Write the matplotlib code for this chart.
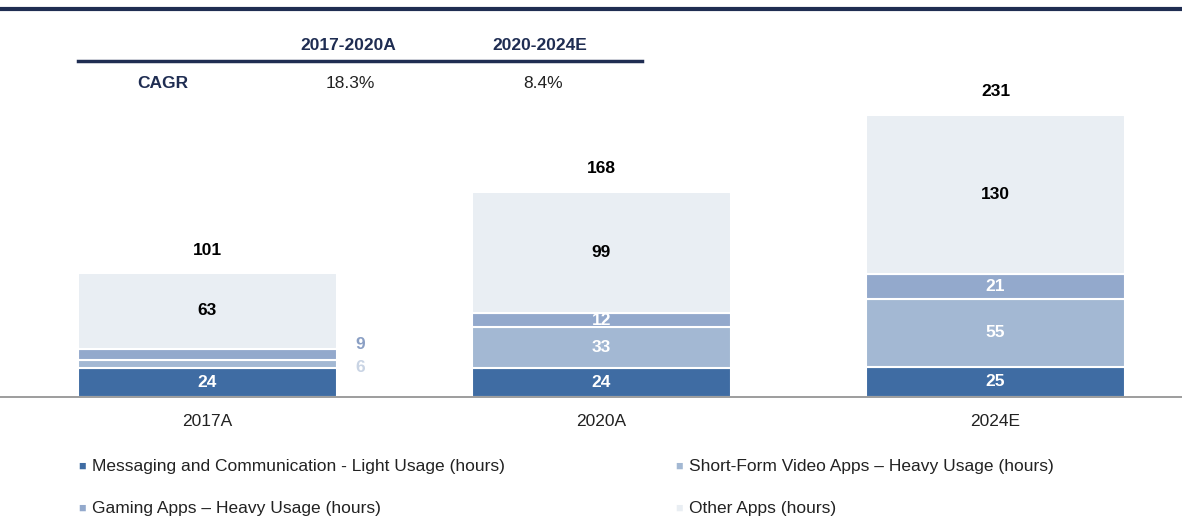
import numpy as np
import matplotlib.pyplot as plt

plt.rcParams['font.family'] = ['Liberation Sans', 'DejaVu Sans']

years = ['2017A', '2020A', '2024E']
messaging = [24, 24, 25]
short_video = [6, 33, 55]
gaming = [9, 12, 21]
other = [63, 99, 130]
totals = [101, 168, 231]

periods = ['2017-2020A', '2020-2024E']
cagr = ['18.3%', '8.4%']

labels = ['Messaging and Communication - Light Usage (hours)',
          'Short-Form Video Apps \u2013 Heavy Usage (hours)',
          'Gaming Apps \u2013 Heavy Usage (hours)',
          'Other Apps (hours)']
colors = ['#3f6ca3', '#a3b8d3', '#93a9cc', '#e9eef3']
navy = '#1f2d52'

W, H = 1182, 521
fig = plt.figure(figsize=(W / 100, H / 100), dpi=100)


def px(x, y):
    return x / W, 1 - y / H


# bars axes: baseline at y=397px, 1.22 px per unit
ax = fig.add_axes([0, (H - 397) / H, 1, 305 / H])
ax.set_xlim(-207.5 / 394, (W - 207.5) / 394)
ax.set_ylim(0, 250)
ax.axis('off')

x = np.arange(len(years))
width = 259 / 394
series = [messaging, short_video, gaming, other]
bottom = np.zeros(len(years))
for vals, c in zip(series, colors):
    ax.bar(x, vals, width, bottom=bottom, color=c, edgecolor='white', linewidth=1.5)
    bottom += np.array(vals)

# segment labels
for i in range(len(years)):
    ax.text(x[i], messaging[i] / 2, str(messaging[i]), ha='center', va='center',
            color='white', fontsize=12.5, fontweight='bold')
    b = messaging[i] + short_video[i] + gaming[i]
    ax.text(x[i], b + other[i] / 2, str(other[i]), ha='center', va='center',
            color='black', fontsize=12.5, fontweight='bold')
    ax.text(x[i], totals[i] + 19, str(totals[i]), ha='center', va='center',
            color='black', fontsize=12.5, fontweight='bold')
    if i > 0:
        ax.text(x[i], messaging[i] + short_video[i] / 2, str(short_video[i]),
                ha='center', va='center', color='white', fontsize=12.5, fontweight='bold')
        ax.text(x[i], messaging[i] + short_video[i] + gaming[i] / 2, str(gaming[i]),
                ha='center', va='center', color='white', fontsize=12.5, fontweight='bold')

# small 2017 values outside the bar
ax.text(x[0] + width / 2 + 0.06, 43, str(gaming[0]), ha='center', va='center',
        color='#8a9fc4', fontsize=12.5, fontweight='bold')
ax.text(x[0] + width / 2 + 0.06, 24, str(short_video[0]), ha='center', va='center',
        color='#c9d4e4', fontsize=12.5, fontweight='bold')

# baseline
ax.axhline(0, color='#8c8c8c', linewidth=1.2, clip_on=False)

# x labels
for i, yr in enumerate(years):
    fig.text(*px(207.5 + 394 * i, 421), yr, ha='center', va='center', fontsize=12.5, color='#222222')

# top rule
fig.add_artist(plt.Line2D([0, 1], [1 - 9 / H, 1 - 9 / H], color=navy, linewidth=3))

# CAGR table
for xp, p in zip([348, 540], periods):
    fig.text(*px(xp, 45), p, ha='center', va='center', fontsize=12.5, fontweight='bold', color=navy)
fig.add_artist(plt.Line2D([78 / W, 642 / W], [1 - 61 / H, 1 - 61 / H], color=navy, linewidth=2.5))
fig.text(*px(163, 83), 'CAGR', ha='center', va='center', fontsize=12.5, fontweight='bold', color=navy)
for xp, v in zip([350, 543], cagr):
    fig.text(*px(xp, 83), v, ha='center', va='center', fontsize=12.5, color='#222222')

# legend
leg_pos = [(82, 467), (679, 467), (82, 509), (679, 509)]
for (lx, ly), lab, c in zip(leg_pos, labels, colors):
    fig.text(*px(lx, ly), '\u25a0', ha='center', va='center', fontsize=9, color=c)
    fig.text(*px(lx + 10, ly), lab, ha='left', va='center', fontsize=12.5, color='#222222')

fig.savefig('out.png', dpi=100)
